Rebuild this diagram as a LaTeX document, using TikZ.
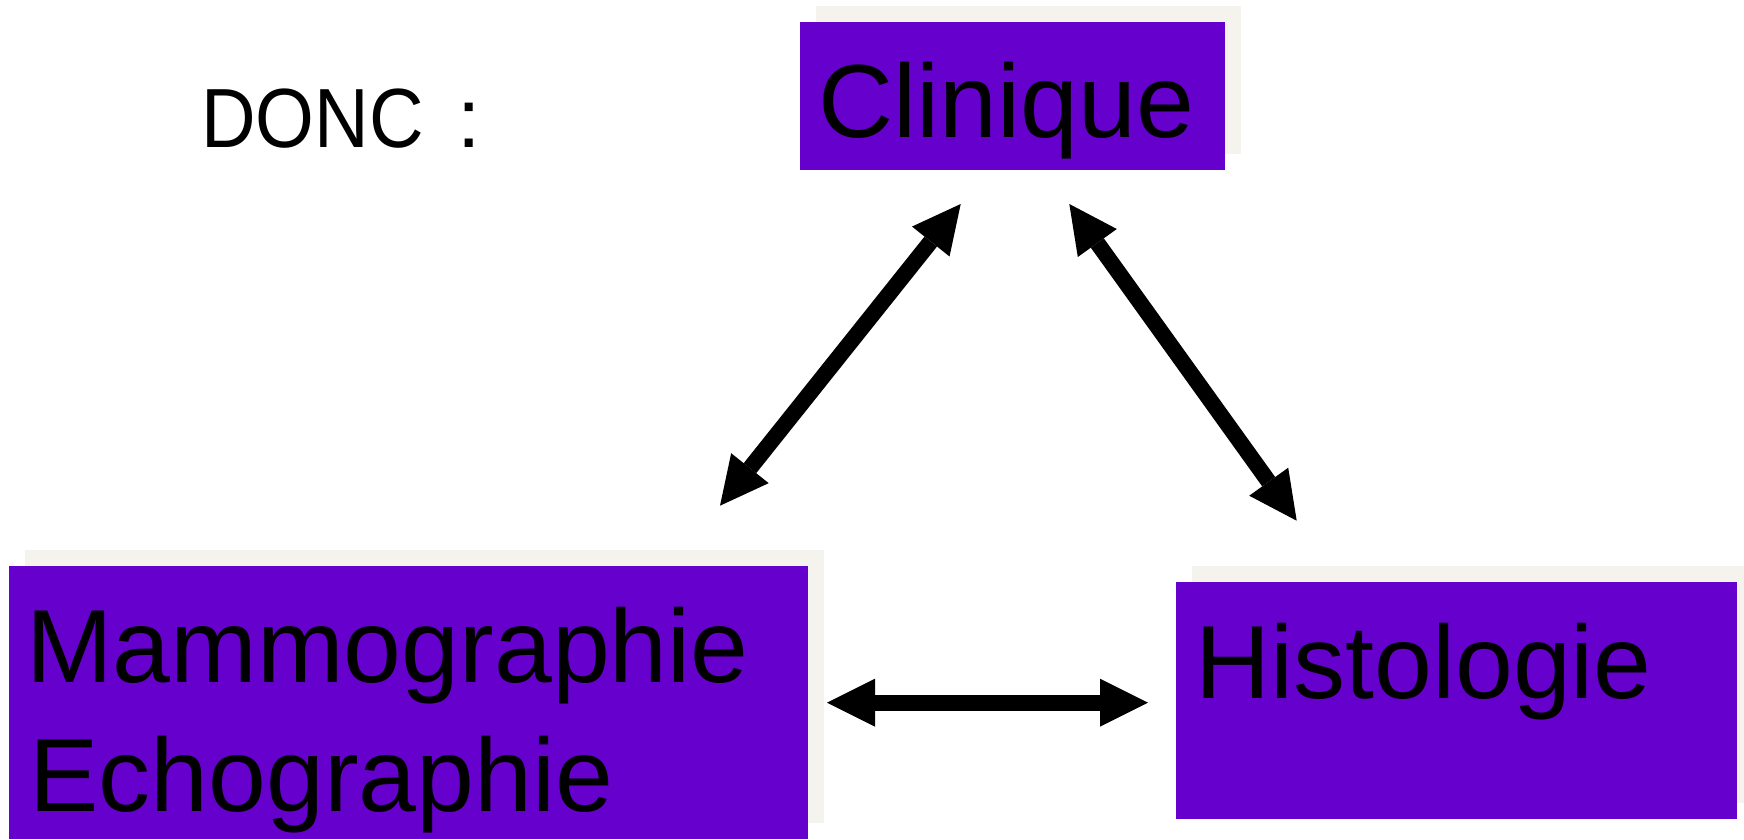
\documentclass[tikz,border=0pt]{standalone}
\usepackage{fontspec}
\setmainfont{Liberation Sans}
\usetikzlibrary{arrows.meta,shadows}
\definecolor{boxpurple}{RGB}{102,0,204}
\definecolor{shadowcol}{RGB}{245,243,238}
\tikzset{
  box/.style={rectangle, fill=boxpurple, inner sep=0pt, draw=none,
    drop shadow={shadow xshift=16pt, shadow yshift=16pt, fill=shadowcol, opacity=1}},
  big/.style={inner sep=0pt, anchor=base west, text=black, font=\fontsize{104}{125}\selectfont},
  dbl/.style={line width=16pt, draw=black, {Triangle[length=48pt,width=48pt,line width=0pt]}-{Triangle[length=48pt,width=48pt,line width=0pt]}}
}
\begin{document}
\begin{tikzpicture}[x=1pt,y=1pt]
\useasboundingbox (0,0) rectangle (1744,-839);
% boxes
\node[box, minimum width=425pt, minimum height=148pt] (clin) at (1012.5,-96) {};
\node[box, minimum width=799pt, minimum height=273pt] (mammo) at (408.5,-702.5) {};
\node[box, minimum width=561pt, minimum height=237pt] (histo) at (1456.5,-700.5) {};
% texts
\node[big] (clintxt) at (818,-137) {Clinique};
\node[big] (mamtxt) at (26,-682) {Mammographie};
\node[big] (echtxt) at (29,-811) {Echographie};
\node[big] (histxt) at (1195,-698) {Histologie};
\node[inner sep=0pt, anchor=base west, font=\fontsize{84}{100}\selectfont] (donc) at (201,-147) {\scalebox{0.9}[1]{DONC}\hspace{34pt}:};
% arrows
\coordinate (l1) at (960.7,-204);
\coordinate (l2) at (720,-505.7);
\coordinate (r1) at (1069.3,-204);
\coordinate (r2) at (1296.7,-520.7);
\coordinate (h1) at (827,-702.7);
\coordinate (h2) at (1148,-702.7);
\draw[dbl] (l1) -- (l2);
\draw[dbl] (r1) -- (r2);
\draw[dbl] (h1) -- (h2);
\end{tikzpicture}
\end{document}
